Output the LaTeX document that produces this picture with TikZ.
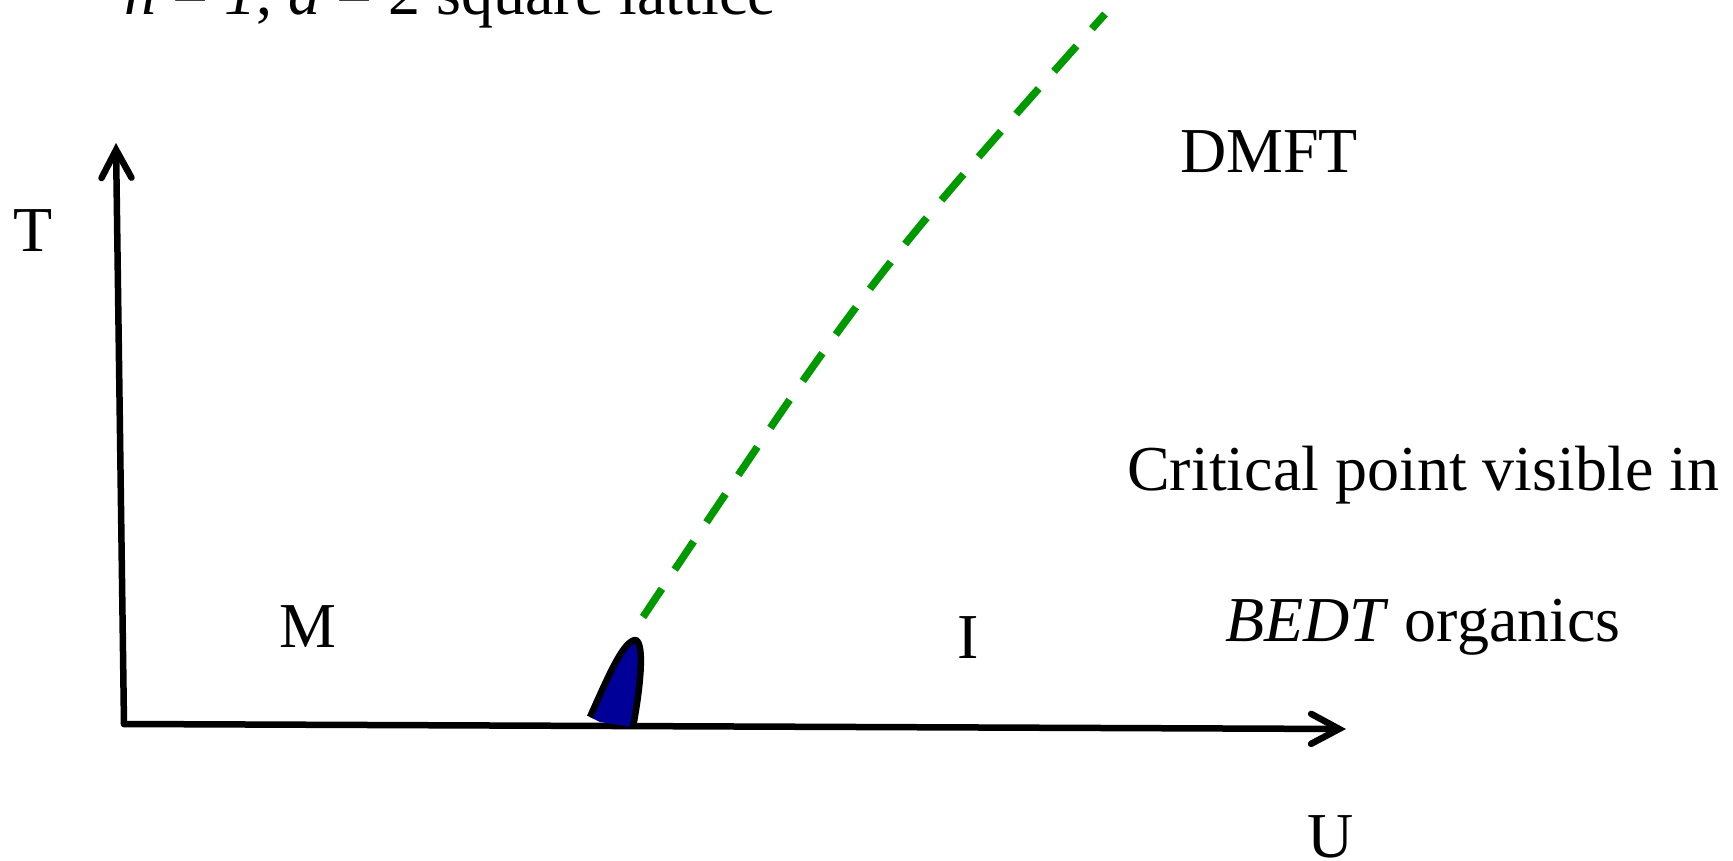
\documentclass[tikz,border=0pt]{standalone}
\usepackage{fontspec}
\setmainfont{Liberation Serif}
\usetikzlibrary{arrows.meta}
\definecolor{lgreen}{RGB}{0,153,0}
\definecolor{navyblue}{RGB}{0,0,153}
\tikzset{
  lbl/.style={inner sep=0pt, font=\fontsize{64}{77}\selectfont},
  axisline/.style={line width=6.5pt, line cap=round, -{Straight Barb[length=28pt,width=30pt,line width=6.5pt,line cap=round]}},
  dmftline/.style={line width=7.5pt, lgreen, dash pattern=on 34pt off 23pt},
}
\begin{document}
\begin{tikzpicture}[x=1pt,y=-1pt]
\useasboundingbox (0,0) rectangle (1733,861);
% axes
\coordinate (O) at (124,724);
\coordinate (Ttip) at (116,143);
\coordinate (Utip) at (1346,729);
\draw[axisline] (O) -- (Ttip);
\draw[axisline] (O) -- (Utip);
% critical end region
\fill[navyblue] (590,717) .. controls (610,672) and (624,640) .. (636,640)
  .. controls (645,645) and (640,690) .. (633,727) -- (600,722) -- cycle;
\draw[line width=6.5pt, line join=round] (590,717) .. controls (610,672) and (624,640) .. (636,640)
  .. controls (645,645) and (640,690) .. (633,727);
% dashed line
\coordinate (dA) at (643,617);
\coordinate (dB) at (1105,14);
\draw[dmftline] (dA) .. controls (870,278) .. (dB);
% labels
\node[lbl, anchor=base west] (title) at (124,15) {\textit{n} = \textit{1}, \textit{d} = 2 square lattice};
\node[lbl, anchor=base] (Tlab) at (33,252) {T};
\node[lbl, anchor=base] (Ulab) at (1331,857) {U};
\node[lbl, anchor=base] (Mlab) at (308,647) {M};
\node[lbl, anchor=base] (Ilab) at (968,658) {I};
\node[lbl, anchor=base west] (dmft) at (1180,173) {DMFT};
\node[lbl, anchor=base west] (crit) at (1127,490) {Critical point visible in};
\node[lbl, anchor=base west] (bedt) at (1225,641) {\textit{BEDT} organics};
\end{tikzpicture}
\end{document}
